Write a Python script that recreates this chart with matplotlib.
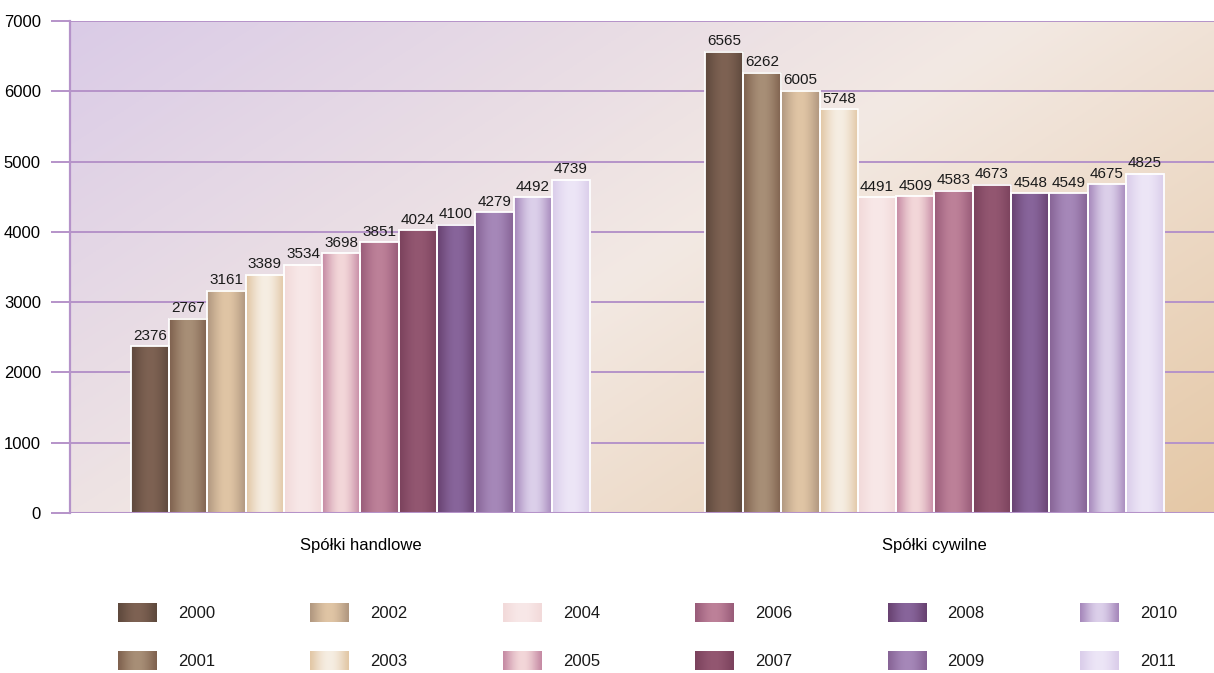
import numpy as np
import matplotlib
matplotlib.use("Agg")
import matplotlib.pyplot as plt
from matplotlib.colors import to_rgb

plt.rcParams['font.family'] = ['Liberation Sans', 'DejaVu Sans']

categories = ["Spółki handlowe", "Spółki cywilne"]
years = ["2000", "2001", "2002", "2003", "2004", "2005",
         "2006", "2007", "2008", "2009", "2010", "2011"]
handlowe = [2376, 2767, 3161, 3389, 3534, 3698, 3851, 4024, 4100, 4279, 4492, 4739]
cywilne = [6565, 6262, 6005, 5748, 4491, 4509, 4583, 4673, 4548, 4549, 4675, 4825]
yticks = [0, 1000, 2000, 3000, 4000, 5000, 6000, 7000]

# (edge colour, centre colour) of each year's gradient
edge_cols = ["#5e493d", "#7f624f", "#b19880", "#e2c7a6", "#f2dada", "#c68ba4",
             "#995c79", "#7b425d", "#684271", "#876496", "#a688bb", "#dacdea"]
mid_cols = ["#7e6253", "#a88f77", "#e0c5a5", "#f6eee3", "#f8e8e8", "#f3d7d9",
            "#bd8199", "#935771", "#88659b", "#a688b9", "#dcd0ea", "#ede6f7"]

grid_col = "#b593c9"

W, H = 1214, 673
fig = plt.figure(figsize=(W / 100, H / 100), dpi=100)
fig.patch.set_facecolor("white")
ax = fig.add_axes([70 / W, 160 / H, (W - 70) / W, (652 - 160) / H])


def grad_strip(c_edge, c_mid, n=64):
    e = np.array(to_rgb(c_edge))
    m = np.array(to_rgb(c_mid))
    t = np.linspace(0, 1, n)
    w = np.sin(np.pi * t) ** 1.2
    return (e[None, :] * (1 - w[:, None]) + m[None, :] * w[:, None])[None, :, :]


# background gradient (diagonal)
ny, nx = 200, 400
yy, xx = np.mgrid[0:1:ny * 1j, 0:1:nx * 1j]
t = (xx * 0.6 + yy * 0.4)
stops = [(0.0, "#dacbe7"), (0.5, "#f3e9e3"), (1.0, "#e5c8a6")]
bg = np.zeros((ny, nx, 3))
for (t0, c0), (t1, c1) in zip(stops[:-1], stops[1:]):
    mask = (t >= t0) & (t <= t1)
    f = ((t - t0) / (t1 - t0))[mask]
    a, b = np.array(to_rgb(c0)), np.array(to_rgb(c1))
    bg[mask] = a * (1 - f[:, None]) + b * f[:, None]
ax.imshow(bg, extent=[0, 1, 0, 1], transform=ax.transAxes, aspect="auto",
          zorder=0, origin="upper")

ax.set_xlim(-0.506, 1.487)
ax.set_ylim(0, 7000)

n = len(years)
group_w = 0.8
bw = group_w / n
xg = np.arange(len(categories))
data = np.array([handlowe, cywilne])

for i in range(n):
    xs = xg - group_w / 2 + bw * (i + 0.5)
    vals = data[:, i]
    bars = ax.bar(xs, vals, width=bw, facecolor="none", edgecolor="white",
                  linewidth=1.3, zorder=3)
    strip = grad_strip(edge_cols[i], mid_cols[i])
    for b, v in zip(bars, vals):
        x0 = b.get_x()
        ax.imshow(strip, extent=[x0, x0 + b.get_width(), 0, b.get_height()],
                  aspect="auto", zorder=2, interpolation="bilinear")
        ax.annotate(f"{v}", (b.get_x() + b.get_width() / 2, b.get_height()),
                    xytext=(0, 2.5), textcoords="offset points",
                    ha="center", va="bottom", fontsize=11, color="#1a1a1a",
                    zorder=4)

ax.set_xlim(-0.506, 1.487)
ax.set_ylim(0, 7000)

for yv in yticks:
    ax.axhline(yv, color=grid_col, lw=1.4 if yv else 2.2, zorder=1 if yv else 3.5)

ax.set_yticks(yticks)
ax.set_yticklabels([str(v) for v in yticks], fontsize=12)
ax.tick_params(axis="y", length=14, width=1.4, color=grid_col, pad=7)
ax.set_xticks(xg)
ax.set_xticklabels(categories, fontsize=12)
ax.tick_params(axis="x", length=0, pad=18)
for s in ["top", "right", "bottom"]:
    ax.spines[s].set_visible(False)
ax.spines["left"].set_color(grid_col)
ax.spines["left"].set_linewidth(1.6)
ax.spines["left"].set_zorder(3.6)

# legend (manual, pixel-based layout)
lax = fig.add_axes([0, 0, 1, 160 / H])
lax.set_xlim(0, W)
lax.set_ylim(160, 0)
lax.axis("off")
col_x0, col_dx = 118, 192.4
row_y = [613, 661]
for i, yr in enumerate(years):
    c, r = divmod(i, 2)
    x0 = col_x0 + col_dx * c
    yc = row_y[r] - (H - 160)
    strip = grad_strip(edge_cols[i], mid_cols[i])
    lax.imshow(strip, extent=[x0, x0 + 39, yc + 9.5, yc - 9.5], aspect="auto",
               interpolation="bilinear")
    lax.text(x0 + 60, yc, yr, ha="left", va="center", fontsize=12, color="#1a1a1a")
lax.set_xlim(0, W)
lax.set_ylim(160, 0)

fig.savefig("out.png", dpi=100)
